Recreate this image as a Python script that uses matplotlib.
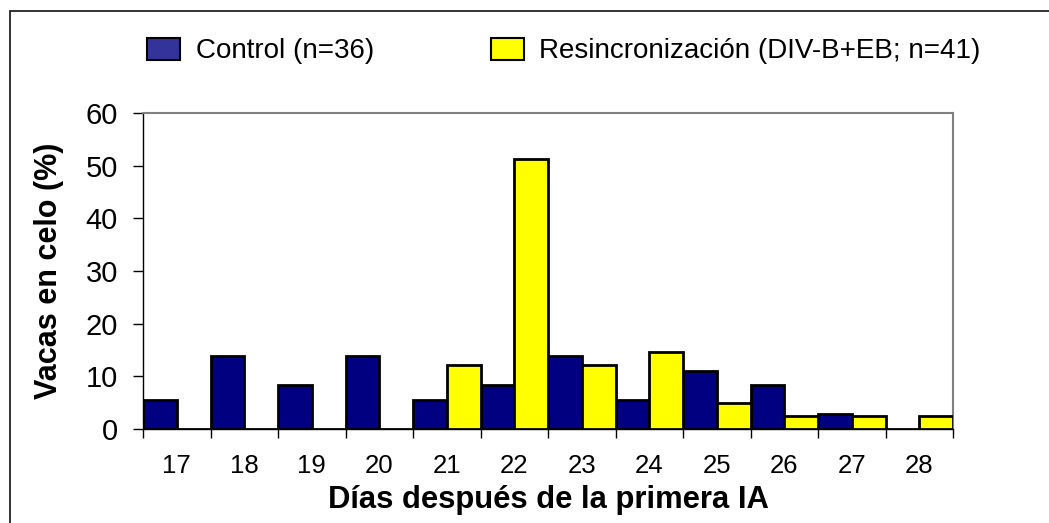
import numpy as np
import matplotlib
matplotlib.use("Agg")
import matplotlib.pyplot as plt
from matplotlib.patches import Patch, Rectangle

# Datos
dias = [17, 18, 19, 20, 21, 22, 23, 24, 25, 26, 27, 28]
control = [5.6, 13.9, 8.3, 13.9, 5.6, 8.3, 13.9, 5.6, 11.1, 8.3, 2.8, 0.0]
resinc = [0.0, 0.0, 0.0, 0.0, 12.2, 51.2, 12.2, 14.6, 4.9, 2.4, 2.4, 2.4]
y_ticks = [0, 10, 20, 30, 40, 50, 60]

lbl_control = "Control (n=36)"
lbl_resinc = "Resincronización (DIV-B+EB; n=41)"

plt.rcParams["font.family"] = ["Liberation Sans", "DejaVu Sans"]

W, H = 1049, 523
fig = plt.figure(figsize=(W / 100, H / 100), dpi=100)
ax = fig.add_axes([143 / W, (H - 429) / H, 810 / W, 316 / H])

x = np.array(dias, dtype=float)
ax.bar(x - 0.5, control, width=0.5, align="edge", color="#000080",
       edgecolor="black", linewidth=2.0, zorder=3)
ax.bar(x, resinc, width=0.5, align="edge", color="#FFFF00",
       edgecolor="black", linewidth=2.0, zorder=3)

ax.set_xlim(dias[0] - 0.5, dias[-1] + 0.5)
ax.set_ylim(0, 60)
ax.set_yticks(y_ticks)
ax.tick_params(axis="y", direction="out", length=7, width=1, pad=11, labelsize=21)

# marcas entre categorías, etiquetas centradas
ax.set_xticks(np.arange(dias[0] - 0.5, dias[-1] + 1, 1))
ax.set_xticklabels([])
ax.set_xticks(dias, minor=True)
ax.set_xticklabels([str(d) for d in dias], minor=True)
ax.tick_params(axis="x", which="major", direction="out", length=6.5, width=1)
ax.tick_params(axis="x", which="minor", length=0, pad=18, labelsize=18.5)

for s in ["top", "right"]:
    ax.spines[s].set_color("#808080")
    ax.spines[s].set_linewidth(1.5)
for s in ["left", "bottom"]:
    ax.spines[s].set_color("black")
    ax.spines[s].set_linewidth(1.0)

ax.set_ylabel("Vacas en celo (%)", fontsize=22, fontweight="bold")
ax.set_xlabel("Días después de la primera IA", fontsize=22.3, fontweight="bold")
ax.yaxis.set_label_coords(-0.116, 0.5)
ax.xaxis.set_label_coords(0.5, -0.225)
ax.yaxis.label.set_va("center")
ax.xaxis.label.set_va("center")

handles = [Patch(facecolor="#333399", edgecolor="black", linewidth=1.5),
           Patch(facecolor="#FFFF00", edgecolor="black", linewidth=1.5)]
fig.legend(handles, [lbl_control, lbl_resinc], loc="center left",
           bbox_to_anchor=(147 / W, 1 - 51 / H), ncol=2, frameon=False,
           fontsize=20, handlelength=1.2, handleheight=0.83,
           handletextpad=0.55, columnspacing=4.2, borderpad=0, borderaxespad=0)

# marco exterior del gráfico
fig.patches.append(Rectangle((10 / W, -0.1), 1.2, 1.1 - 11 / H,
                             transform=fig.transFigure, fill=False,
                             edgecolor="#222222", linewidth=1.3))

fig.savefig("out.png", dpi=100)
